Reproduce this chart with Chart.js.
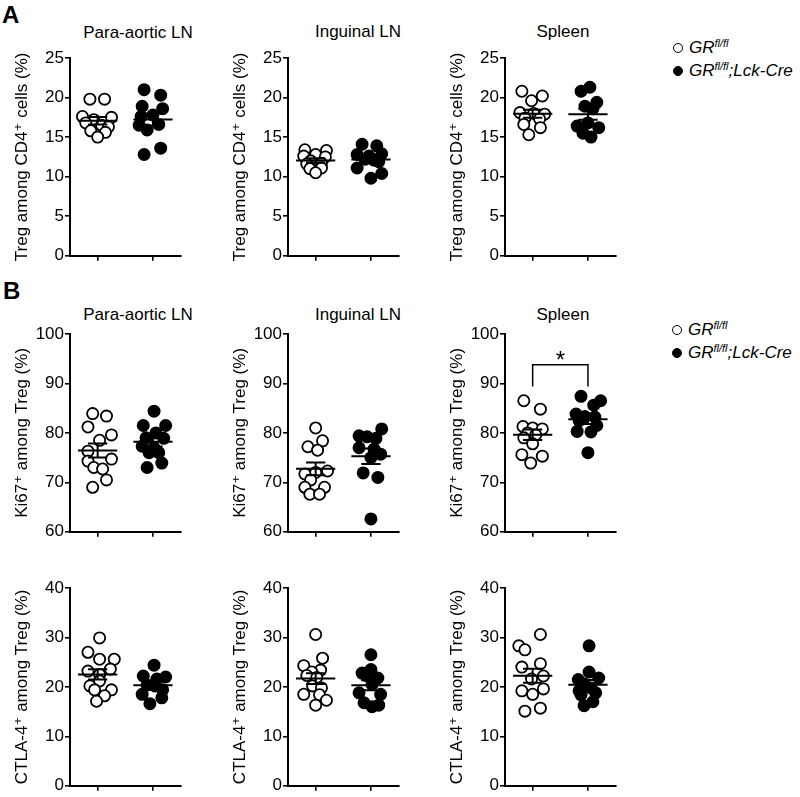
<!DOCTYPE html>
<html>
<head>
<meta charset="utf-8">
<script src="https://cdn.jsdelivr.net/npm/chart.js@4/dist/chart.umd.min.js"></script>
<style>
body { margin: 0; background: #fff; font-family: 'Liberation Sans', Arial, sans-serif; }
#fig { position: relative; width: 800px; height: 797px; overflow: hidden; }
#fig canvas { position: absolute; }
.ttl { position: absolute; font-size: 17px; line-height: 20px; transform: translateX(-50%); white-space: nowrap; }
.lbl { position: absolute; font-size: 24px; font-weight: bold; line-height: 26px; }
.leg { position: absolute; font-size: 17px; line-height: 20px; font-style: italic; white-space: nowrap; }
.leg sup { font-size: 11px; vertical-align: 6px; }
.dot { display: inline-block; width: 10px; height: 10px; border-radius: 50%; border: 1.6px solid #000;
       box-sizing: border-box; margin-right: 6px; vertical-align: 0px; }
.dot.fill { background: #000; }
</style>
</head>
<body>
<div id="fig">
  <div class="lbl" style="left:2px;top:2px">A</div>
  <div class="lbl" style="left:3px;top:278px">B</div>

  <div class="ttl" style="left:138px;top:23px">Para-aortic LN</div>
  <div class="ttl" style="left:358px;top:22px">Inguinal LN</div>
  <div class="ttl" style="left:563px;top:22px">Spleen</div>
  <div class="ttl" style="left:138px;top:305px">Para-aortic LN</div>
  <div class="ttl" style="left:358px;top:305px">Inguinal LN</div>
  <div class="ttl" style="left:563px;top:305px">Spleen</div>

  <div class="leg" style="left:673px;top:33px"><span class="dot"></span>GR<sup>fl/fl</sup></div>
  <div class="leg" style="left:673px;top:56px"><span class="dot fill"></span>GR<sup>fl/fl</sup>;Lck-Cre</div>
  <div class="leg" style="left:672px;top:315px"><span class="dot"></span>GR<sup>fl/fl</sup></div>
  <div class="leg" style="left:672px;top:338px"><span class="dot fill"></span>GR<sup>fl/fl</sup>;Lck-Cre</div>

  <canvas id="a1" width="188" height="227"></canvas>
  <canvas id="a2" width="188" height="227"></canvas>
  <canvas id="a3" width="188" height="227"></canvas>
  <canvas id="b1" width="188" height="227"></canvas>
  <canvas id="b2" width="188" height="227"></canvas>
  <canvas id="b3" width="188" height="227"></canvas>
  <canvas id="c1" width="188" height="227"></canvas>
  <canvas id="c2" width="188" height="227"></canvas>
  <canvas id="c3" width="188" height="227"></canvas>
</div>
<script>
// groups and their x positions on the axis
var groups = ['GR fl/fl', 'GR fl/fl;Lck-Cre'];
var groupPos = [1, 3];

// A: Treg among CD4+ cells (%)
var paraTregWt  = [19.8, 19.8, 17.6, 17.5, 17.2, 16.8, 16.5, 16.3, 15.8, 15.6, 15.0];
var paraTregWtX = [-0.28, 0.25, -0.55, 0.5, -0.14, -0.43, 0.14, 0.39, -0.25, 0.28, 0];
var paraTregKo  = [21.0, 20.3, 18.9, 18.6, 17.8, 17.6, 16.5, 16.6, 15.9, 13.6, 12.8];
var paraTregKoX = [-0.32, 0.28, -0.39, 0.35, 0, -0.43, -0.5, 0.21, -0.21, 0.28, -0.32];
var ingTregWt   = [13.4, 13.3, 12.8, 12.6, 12.5, 12.0, 11.7, 11.6, 11.1, 11.0, 10.5];
var ingTregWtX  = [-0.39, 0.39, 0, -0.43, 0.35, -0.18, 0.21, -0.32, 0.21, -0.21, 0];
var ingTregKo   = [14.1, 13.9, 12.8, 12.9, 12.6, 12.2, 12.1, 11.9, 11.1, 10.4, 9.8];
var ingTregKoX  = [-0.32, 0.21, -0.5, 0.39, -0.07, -0.21, 0.11, 0.28, -0.5, 0.39, 0];
var splTregWt   = [20.8, 20.2, 19.6, 18.1, 18.0, 17.9, 17.4, 17.3, 16.6, 16.2, 15.3];
var splTregWtX  = [-0.39, 0.35, -0.04, -0.46, 0.04, 0.43, -0.28, 0.25, -0.32, 0.28, -0.14];
var splTregKo   = [21.3, 20.8, 19.4, 18.9, 18.6, 16.8, 16.4, 16.2, 15.5, 15.0];
var splTregKoX  = [0.07, -0.25, 0.32, -0.11, 0.18, 0, -0.39, 0.39, -0.18, 0.11];

// B: Ki67+ among Treg (%)
var paraKiWt  = [83.9, 83.4, 81.2, 79.6, 78.5, 76.3, 74.7, 74.3, 73.0, 72.7, 70.5, 69.0];
var paraKiWtX = [-0.18, 0.32, -0.35, 0.5, 0.07, -0.35, 0.5, -0.35, -0.14, 0.18, 0.32, -0.18];
var paraKiKo  = [84.4, 81.5, 81.5, 80.0, 79.0, 78.9, 77.3, 77.0, 76.0, 76.0, 73.0, 73.9];
var paraKiKoX = [0.04, -0.35, 0.46, 0.11, -0.25, 0.39, -0.39, 0.04, -0.14, 0.21, -0.21, 0.32];
var ingKiWt   = [81.0, 78.4, 77.2, 76.5, 72.3, 72.0, 71.7, 70.5, 69.0, 69.0, 67.6, 67.6];
var ingKiWtX  = [0, 0.25, -0.28, 0.07, 0.43, 0, -0.39, -0.18, -0.39, 0.32, -0.21, 0.14];
var ingKiKo   = [80.8, 79.4, 79.2, 78.9, 77.0, 76.7, 75.7, 75.0, 71.9, 71.0, 62.6];
var ingKiKoX  = [0.39, -0.43, -0.14, 0.18, -0.43, 0.11, 0.35, 0, -0.28, 0.25, 0];
var splKiWt   = [86.5, 84.8, 81.3, 81.0, 80.8, 80.0, 79.6, 79.0, 77.8, 75.6, 75.3, 73.9];
var splKiWtX  = [-0.32, 0.28, -0.35, 0, 0.35, -0.18, 0.11, -0.32, 0, -0.39, 0.35, -0.07];
var splKiKo   = [87.4, 86.5, 85.6, 83.8, 83.3, 83.2, 82.5, 81.5, 80.3, 80.2, 76.0];
var splKiKoX  = [-0.25, 0.46, 0.21, -0.43, -0.11, 0.25, -0.32, 0.32, -0.39, 0.11, 0];
var splKiSig  = [89.4, 93.8]; // bracket bottom / top

// C: CTLA-4+ among Treg (%)
var paraCtWt  = [29.9, 27.0, 25.6, 25.6, 23.6, 23.2, 22.5, 21.2, 20.2, 19.4, 19.4, 18.2, 17.1];
var paraCtWtX = [0.07, -0.35, 0.07, 0.6, 0.46, -0.35, 0.07, 0.07, -0.28, -0.11, 0.5, 0.25, -0.04];
var paraCtKo  = [24.4, 22.2, 21.6, 22.0, 20.4, 20.2, 19.4, 18.5, 17.8, 16.6];
var paraCtKoX = [0.04, -0.35, 0.14, 0.46, -0.21, 0.07, 0.35, -0.39, 0.32, -0.11];
var ingCtWt   = [30.6, 25.8, 24.3, 23.4, 23.0, 22.3, 21.9, 20.2, 19.8, 18.5, 18.4, 17.3, 16.3];
var ingCtWtX  = [0, 0.25, -0.43, 0.18, -0.14, -0.32, 0.04, -0.11, 0.21, -0.43, 0.14, 0.39, 0];
var ingCtKo   = [26.5, 23.5, 22.8, 22.3, 21.8, 20.5, 18.8, 18.5, 16.8, 16.0, 16.3];
var ingCtKoX  = [0, 0, -0.32, -0.18, 0.25, 0.04, -0.43, 0.35, -0.25, 0.04, 0.28];
var splCtWt   = [30.6, 28.3, 27.5, 24.7, 24.0, 21.6, 22.2, 19.2, 19.6, 18.5, 15.1, 15.7];
var splCtWtX  = [0.28, -0.5, -0.28, 0.28, -0.39, -0.04, 0.39, -0.39, 0.39, 0, -0.28, 0.28];
var splCtKo   = [28.3, 23.0, 21.8, 21.5, 20.6, 19.8, 19.2, 18.8, 18.4, 17.0, 16.2];
var splCtKoX  = [0.04, 0.04, 0.39, -0.35, -0.14, 0.11, -0.32, 0.28, -0.25, 0.18, -0.14];

var rows = {
    A: { top: 40,  min: 0,  max: 25,  step: 5,  title: 'Treg among CD4\u207A cells (%)' },
    B: { top: 316, min: 60, max: 100, step: 10, title: 'Ki67\u207A among Treg (%)' },
    C: { top: 570, min: 0,  max: 40,  step: 10, title: 'CTLA-4\u207A among Treg (%)' }
};
var colLeft = [0, 218, 435];

var panels = [
    { id: 'a1', row: 'A', col: 0, wt: paraTregWt, wtX: paraTregWtX, ko: paraTregKo, koX: paraTregKoX },
    { id: 'a2', row: 'A', col: 1, wt: ingTregWt,  wtX: ingTregWtX,  ko: ingTregKo,  koX: ingTregKoX },
    { id: 'a3', row: 'A', col: 2, wt: splTregWt,  wtX: splTregWtX,  ko: splTregKo,  koX: splTregKoX },
    { id: 'b1', row: 'B', col: 0, wt: paraKiWt,   wtX: paraKiWtX,   ko: paraKiKo,   koX: paraKiKoX },
    { id: 'b2', row: 'B', col: 1, wt: ingKiWt,    wtX: ingKiWtX,    ko: ingKiKo,    koX: ingKiKoX },
    { id: 'b3', row: 'B', col: 2, wt: splKiWt,    wtX: splKiWtX,    ko: splKiKo,    koX: splKiKoX, sig: splKiSig },
    { id: 'c1', row: 'C', col: 0, wt: paraCtWt,   wtX: paraCtWtX,   ko: paraCtKo,   koX: paraCtKoX },
    { id: 'c2', row: 'C', col: 1, wt: ingCtWt,    wtX: ingCtWtX,    ko: ingCtKo,    koX: ingCtKoX },
    { id: 'c3', row: 'C', col: 2, wt: splCtWt,    wtX: splCtWtX,    ko: splCtKo,    koX: splCtKoX }
];

var FONT = "'Liberation Sans', 'DejaVu Sans', sans-serif";
Chart.defaults.font.family = FONT;
Chart.defaults.color = '#000';

function meanSem(v) {
    var n = v.length;
    var m = v.reduce(function (a, b) { return a + b; }, 0) / n;
    var sd = Math.sqrt(v.reduce(function (a, b) { return a + (b - m) * (b - m); }, 0) / (n - 1));
    return [m, sd / Math.sqrt(n)];
}

// mean line + SEM whiskers as one broken line
function summaryLine(c, v) {
    var ms = meanSem(v), m = ms[0], s = ms[1];
    return [
        { x: c - 0.71, y: m }, { x: c + 0.71, y: m }, { x: c, y: null },
        { x: c - 0.35, y: m + s }, { x: c + 0.35, y: m + s }, { x: c, y: null },
        { x: c - 0.35, y: m - s }, { x: c + 0.35, y: m - s }, { x: c, y: null },
        { x: c, y: m - s }, { x: c, y: m + s }
    ];
}

function points(c, v, dx) {
    return v.map(function (y, i) { return { x: c + dx[i], y: y }; });
}

var sigPlugin = {
    id: 'sig',
    afterDatasetsDraw: function (chart, args, opts) {
        if (!opts.top) return;
        var ctx = chart.ctx, xs = chart.scales.x, ys = chart.scales.y;
        ctx.save();
        ctx.font = '24px ' + FONT;
        ctx.textAlign = 'center';
        ctx.fillStyle = '#000';
        ctx.fillText('*', xs.getPixelForValue((groupPos[0] + groupPos[1]) / 2), ys.getPixelForValue(opts.top) + 3);
        ctx.restore();
    }
};

panels.forEach(function (p) {
    var r = rows[p.row];
    var canvas = document.getElementById(p.id);
    canvas.style.left = colLeft[p.col] + 'px';
    canvas.style.top = r.top + 'px';

    var lineStyle = { type: 'line', showLine: true, borderColor: '#000', borderWidth: 2,
                      pointRadius: 0, fill: false, spanGaps: false };
    var datasets = [
        Object.assign({ data: summaryLine(groupPos[0], p.wt) }, lineStyle),
        Object.assign({ data: summaryLine(groupPos[1], p.ko) }, lineStyle)
    ];
    if (p.sig) {
        datasets.push(Object.assign({}, lineStyle, { borderWidth: 1.5, data: [
            { x: groupPos[0], y: p.sig[0] }, { x: groupPos[0], y: p.sig[1] },
            { x: groupPos[1], y: p.sig[1] }, { x: groupPos[1], y: p.sig[0] }
        ] }));
    }
    datasets.push({
        label: groups[0], data: points(groupPos[0], p.wt, p.wtX),
        pointRadius: 5.6, pointBackgroundColor: '#fff', pointBorderColor: '#000', pointBorderWidth: 1.8
    });
    datasets.push({
        label: groups[1], data: points(groupPos[1], p.ko, p.koX),
        pointRadius: 5.6, pointBackgroundColor: '#000', pointBorderColor: '#000', pointBorderWidth: 1.8
    });

    new Chart(canvas, {
        type: 'scatter',
        data: { datasets: datasets },
        options: {
            responsive: false,
            animation: false,
            events: [],
            layout: { padding: { top: 18, right: 5, left: 0, bottom: 0 } },
            plugins: {
                legend: { display: false },
                tooltip: { enabled: false },
                sig: { top: p.sig ? p.sig[1] : null }
            },
            scales: {
                x: {
                    type: 'linear', min: 0, max: 4,
                    afterBuildTicks: function (s) { s.ticks = [{ value: groupPos[0] }, { value: groupPos[1] }]; },
                    afterFit: function (s) { s.height = 10; },
                    ticks: { display: false },
                    border: { color: '#000', width: 2 },
                    grid: { drawOnChartArea: false, drawTicks: true, tickLength: 5, color: '#000', lineWidth: 1.6 }
                },
                y: {
                    min: r.min, max: r.max,
                    afterFit: function (s) { s.width = 70; },
                    ticks: { stepSize: r.step, color: '#000', padding: 1, font: { size: 17 } },
                    border: { color: '#000', width: 2 },
                    grid: { drawOnChartArea: false, tickLength: 5, color: '#000', lineWidth: 1.6 },
                    title: { display: true, text: r.title, color: '#000', font: { size: 17 },
                             padding: { top: 12, bottom: 0 } }
                }
            }
        },
        plugins: [sigPlugin]
    });
});
</script>
</body>
</html>
